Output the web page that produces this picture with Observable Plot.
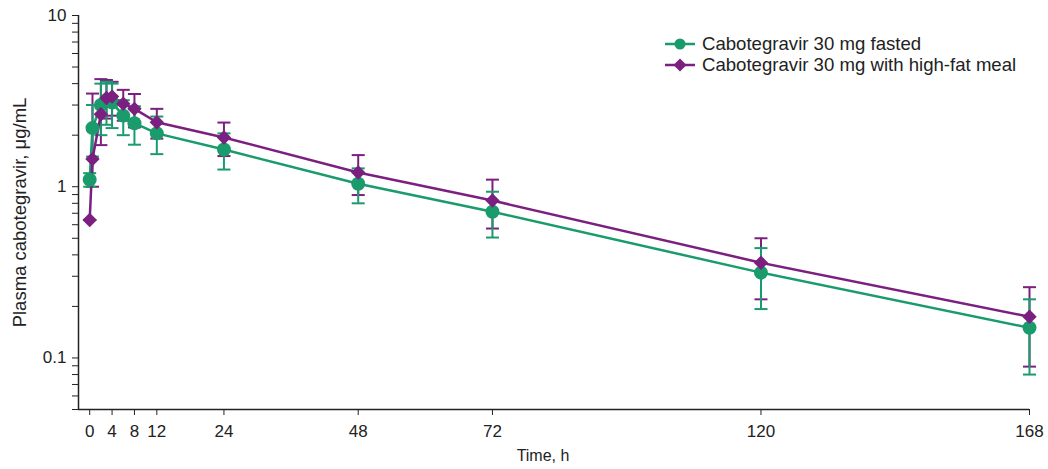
<!DOCTYPE html>
<html>
<head>
<meta charset="utf-8">
<script src="https://cdn.jsdelivr.net/npm/d3@7"></script>
<script src="https://cdn.jsdelivr.net/npm/@observablehq/plot@0.6"></script>
<style>
  html, body { margin: 0; padding: 0; background: #fff; }
  #wrap { position: relative; width: 1048px; height: 469px; font-family: "Liberation Sans", Arial, sans-serif; }
  #legend { position: absolute; left: 662px; top: 33px; font-size: 18.6px; color: #222; }
  #legend .row { display: flex; align-items: center; height: 21px; }
  #legend svg { margin-right: 4px; }
</style>
</head>
<body>
<div id="wrap"></div>
<script>
// ---- data ----
const times = [0, 0.5, 2, 3, 4, 6, 8, 12, 24, 48, 72, 120, 168];
const seriesNames = ["Cabotegravir 30 mg fasted", "Cabotegravir 30 mg with high-fat meal"];

const fastedMean = [1.1, 2.2, 3.0, 3.2, 3.1, 2.6, 2.35, 2.05, 1.65, 1.04, 0.714, 0.315, 0.15];
const fastedLo   = [1.0, 1.5, 2.0, 2.3, 2.2, 2.0, 1.76, 1.55, 1.26, 0.80, 0.505, 0.193, 0.08];
const fastedHi   = [1.2, 3.0, 4.0, 4.1, 4.0, 3.2, 2.95, 2.57, 2.05, 1.28, 0.935, 0.438, 0.22];

const fedMean = [0.64, 1.45, 2.65, 3.3, 3.36, 3.05, 2.85, 2.38, 1.94, 1.21, 0.83, 0.36, 0.174];
const fedLo   = [0.64, 1.0, 1.75, 2.5, 2.6, 2.43, 2.22, 1.91, 1.51, 0.894, 0.57, 0.22, 0.089];
const fedHi   = [0.64, 3.5, 4.25, 4.2, 4.1, 3.68, 3.48, 2.85, 2.37, 1.53, 1.10, 0.50, 0.259];

const xTicks = [0, 4, 8, 12, 24, 48, 72, 120, 168];
const yMajorTicks = [0.1, 1, 10];
const yMinorTicks = [0.05, 0.06, 0.07, 0.08, 0.09, 0.2, 0.3, 0.4, 0.5, 0.6, 0.7, 0.8, 0.9, 2, 3, 4, 5, 6, 7, 8, 9];
const xLabel = "Time, h";
const yLabel = "Plasma cabotegravir, μg/mL";

// ---- styles ----
const green = "#1a9b6c";
const purple = "#7b1f80";
const axisColor = "#222";

const fasted = times.map((t, i) => ({t, v: fastedMean[i], lo: fastedLo[i], hi: fastedHi[i]}));
const fed = times.map((t, i) => ({t, v: fedMean[i], lo: fedLo[i], hi: fedHi[i]}));

const cap = {draw(ctx) { ctx.moveTo(-6.5, 0); ctx.lineTo(6.5, 0); }};

function bars(data, color) {
  return [
    Plot.ruleX(data, {x: "t", y1: "lo", y2: "hi", stroke: color, strokeWidth: 2}),
    Plot.dot(data, {x: "t", y: "lo", symbol: cap, stroke: color, strokeWidth: 2, fill: "none"}),
    Plot.dot(data, {x: "t", y: "hi", symbol: cap, stroke: color, strokeWidth: 2, fill: "none"})
  ];
}

const chart = Plot.plot({
  width: 1048,
  height: 469,
  marginLeft: 78,
  marginRight: 19,
  marginTop: 15,
  marginBottom: 60,
  style: {fontFamily: "Liberation Sans, Arial, sans-serif", fontSize: "17px", color: axisColor, background: "#fff"},
  x: {domain: [-2, 168]},
  y: {type: "log", domain: [0.05, 10]},
  marks: [
    Plot.axisX({ticks: xTicks, tickSize: 6, tickPadding: 9, fontSize: 17, label: null, stroke: axisColor}),
    Plot.axisY({ticks: yMajorTicks, tickSize: 6, tickPadding: 6, fontSize: 17, tickFormat: d => String(d), label: null, stroke: axisColor}),
    Plot.axisY({ticks: yMinorTicks, tickSize: 6, tickFormat: () => "", label: null, stroke: axisColor}),
    Plot.text([xLabel], {frameAnchor: "bottom", dx: -11, dy: 46, lineAnchor: "middle", fontSize: 16, fill: axisColor}),
    Plot.text([yLabel], {frameAnchor: "left", dx: -58, rotate: -90, textAnchor: "middle", lineAnchor: "middle", fontSize: 18.5, fill: axisColor}),
    Plot.ruleX([-2], {stroke: axisColor, strokeWidth: 1.5}),
    Plot.ruleY([0.05], {stroke: axisColor, strokeWidth: 1.5}),
    ...bars(fed, purple),
    ...bars(fasted, green),
    Plot.line(fasted, {x: "t", y: "v", stroke: green, strokeWidth: 2.5}),
    Plot.line(fed, {x: "t", y: "v", stroke: purple, strokeWidth: 2.5}),
    Plot.dot(fasted, {x: "t", y: "v", r: 7, fill: green, symbol: "circle"}),
    Plot.dot(fed, {x: "t", y: "v", r: 6.5, fill: purple, symbol: "diamond2"})
  ]
});

const wrap = document.getElementById("wrap");
wrap.appendChild(chart);

// legend (inside plot, top right)
const legend = document.createElement("div");
legend.id = "legend";
const legendItems = [
  {name: seriesNames[0], color: green, shape: "circle"},
  {name: seriesNames[1], color: purple, shape: "diamond"}
];
legend.innerHTML = legendItems.map(d => {
  const marker = d.shape === "circle"
    ? `<circle cx="18" cy="10" r="5.5" fill="${d.color}"/>`
    : `<path d="M18,3.5 L24.5,10 L18,16.5 L11.5,10 Z" fill="${d.color}"/>`;
  return `<div class="row"><svg width="36" height="20"><line x1="3" y1="10" x2="33" y2="10" stroke="${d.color}" stroke-width="2.5"/>${marker}</svg><span>${d.name}</span></div>`;
}).join("");
wrap.appendChild(legend);
</script>
</body>
</html>
